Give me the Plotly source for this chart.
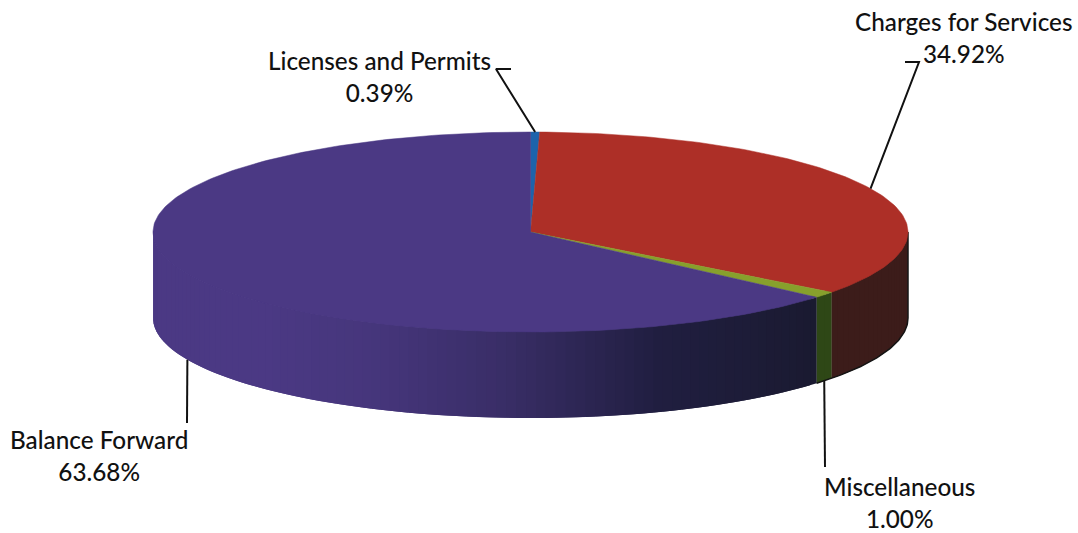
import numpy as np
import plotly.graph_objects as go

# Slices in clockwise order from twelve o'clock
categories = ["Licenses and Permits", "Charges for Services", "Miscellaneous", "Balance Forward"]
shares = [0.39, 34.92, 1.00, 63.68]
top_colors = ["#1d63ab", "#ad2f27", "#87a02c", "#4b3984"]
side_colors = ["#123c68", "#3c1c1a", "#2e4716", "#4b3984"]

# Projection of the disc onto the page
CX, CY, RX, RY, DEPTH = 530.5, 232, 377.5, 100, 86

# Darkening of the purple wall, as (clockwise degrees, colour)
wall_stops = [(131, "#1a1a30"), (160, "#201e40"), (185, "#3a2e68"),
              (205, "#46367c"), (225, "#4b3984"), (270, "#4b3984")]

# Label text blocks and the elbow where each leader leaves its label
label_x = [379, 963.5, 899, 99]
label_y = [76.5, 37, 502, 455.5]
leader_elbow = [[(496, 69), (511, 69)], [(919, 62), (905, 62)], [(825, 467)], [(187, 423)]]

edges = np.concatenate([[0], np.cumsum(shares)]) * 3.6
edges[-1] = 360.0


def rim(deg, drop=0.0, scale=1.0):
    a = np.radians(deg)
    return CX + scale * RX * np.sin(a), CY - scale * RY * np.cos(a) + drop


def hex_rgb(c):
    return np.array([int(c[i:i + 2], 16) for i in (1, 3, 5)], dtype=float)


def wall_color(deg):
    xs = [s[0] for s in wall_stops]
    rgb = np.stack([hex_rgb(s[1]) for s in wall_stops])
    return "rgb({:.0f},{:.0f},{:.0f})".format(*[np.interp(deg, xs, rgb[:, i]) for i in range(3)])


def poly(fig, xs, ys, color, lw=0.0):
    fig.add_trace(go.Scatter(x=xs, y=ys, mode="lines", fill="toself", fillcolor=color,
                             line=dict(color=color, width=lw), hoverinfo="skip",
                             showlegend=False))


fig = go.Figure()

# Visible outer wall: front half of the disc as thin strips, each overlapped by the next.
# Strips start slightly inside the rim so the top face fully covers their upper edge.
for i in range(len(shares)):
    lo, hi = max(edges[i], 90.0), min(edges[i + 1], 270.0)
    if hi <= lo:
        continue
    n = max(1, int((hi - lo) / 1.5))
    steps = np.linspace(lo, hi, n + 1)
    for k, a in enumerate(steps[:-1]):
        b = steps[min(k + 2, n)]
        t = np.linspace(a, b, 5)
        xt, yt = rim(t, scale=0.98)
        xm, ym = rim(t[::-1])
        xb, yb = rim(t, DEPTH)
        color = wall_color((a + steps[k + 1]) / 2) if i == 3 else side_colors[i]
        poly(fig, np.r_[xm, xb], np.r_[ym, yb], color)
        poly(fig, np.r_[xt, xm], np.r_[yt, ym], color)

# Dark outline on the lower right where the wall meets the page
t = np.linspace(90, edges[3], 60)
fig.add_trace(go.Scatter(x=rim(t, DEPTH)[0], y=rim(t, DEPTH)[1], mode="lines",
                         line=dict(color="#141414", width=1.5), hoverinfo="skip", showlegend=False))
x90, y90 = rim(90.0)
fig.add_trace(go.Scatter(x=[x90, x90], y=[y90, y90 + DEPTH], mode="lines",
                         line=dict(color="#141414", width=1.5), hoverinfo="skip", showlegend=False))

# Top face wedges
for i in range(len(shares)):
    t = np.linspace(edges[i], edges[i + 1], max(3, int(shares[i] * 3.6)))
    xs, ys = rim(t)
    poly(fig, np.r_[CX, xs, CX], np.r_[CY, ys, CY], top_colors[i], 0.5)

# Leader lines from each slice's mid-angle on the rim to its label
mids = (edges[:-1] + edges[1:]) / 2
for i, m in enumerate(mids):
    on_front = 90 < m < 270
    ax, ay = rim(m, DEPTH if on_front else 0.0)
    pts = [(ax, ay)] + leader_elbow[i]
    fig.add_trace(go.Scatter(x=[p[0] for p in pts], y=[p[1] for p in pts], mode="lines",
                             line=dict(color="#111111", width=2), hoverinfo="skip",
                             showlegend=False))

# Two-line labels: category name over its percentage
for i, name in enumerate(categories):
    fig.add_annotation(x=label_x[i], y=label_y[i], xref="x", yref="y", showarrow=False,
                       text=f"{name}<br>{shares[i]:.2f}%", align="center",
                       font=dict(family="Lato", size=24.3, color="#111111", weight=500))

fig.update_xaxes(range=[0, 1078], visible=False, fixedrange=True)
fig.update_yaxes(range=[533, 0], visible=False, fixedrange=True)
fig.update_layout(width=1078, height=533, margin=dict(l=0, r=0, t=0, b=0),
                  paper_bgcolor="white", plot_bgcolor="white")
fig.write_html("out.html", config=dict(displayModeBar=False))
